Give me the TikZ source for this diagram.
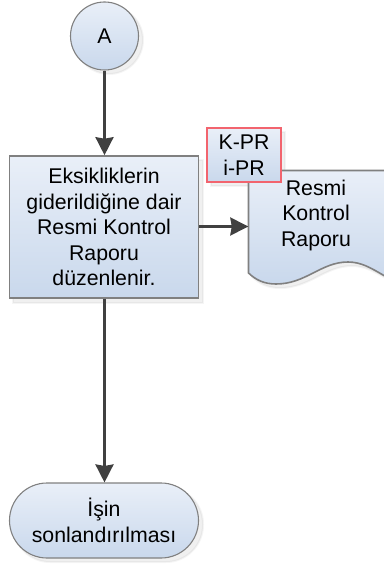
\documentclass[tikz,border=0pt]{standalone}
\usepackage{fontspec}
\setmainfont{Liberation Sans}
\usetikzlibrary{arrows.meta,shapes.misc,calc}
\definecolor{edgegray}{HTML}{808080}
\definecolor{arrowgray}{HTML}{404040}
\definecolor{fillTop}{HTML}{E9EFF8}
\definecolor{fillBot}{HTML}{C9D8EC}
\definecolor{redline}{HTML}{F2646E}
\tikzset{
  x=1pt,y=-1pt,
  body/.style={top color=fillTop,bottom color=fillBot,draw=edgegray,line width=1.1pt},
  heavybody/.style={body,line width=1.6pt},
  softshadow/.style={fill=black,fill opacity=0.06,draw=black,draw opacity=0.04,line width=2pt},
  label/.style={align=center,font=\fontsize{21.3}{25.5}\selectfont,text=black,inner sep=0pt},
  flow/.style={draw=arrowgray,line width=2.6pt,-{Stealth[length=18pt,width=18pt,inset=1.5pt]}},
}
\begin{document}
\begin{tikzpicture}
\useasboundingbox (0,0) rectangle (383,567);
% shadows
\fill[softshadow] (109,40) circle (34);
\fill[softshadow] (13,160) rectangle (203,303);
\fill[softshadow] (252,175) -- (394,175) -- (394,287) -- (387,279) .. controls (375,272) and (365,266) .. (352,266) .. controls (325,266) and (310,288) .. (280,288) .. controls (268,288) and (260,284) .. (252,277) -- cycle;
\fill[softshadow] (211,132) rectangle (285,186);
\fill[softshadow,rounded corners=37pt] (13,487) rectangle (203,562);
% shapes
\node[body,circle,minimum size=68pt,inner sep=0pt] (A) at (104.5,36) {};
\node[heavybody,rectangle,minimum width=189pt,minimum height=142pt,inner sep=0pt] (box) at (104,227) {};
\path[heavybody] (248.5,170.5) -- (390,170.5) -- (390,279) -- (383,275) .. controls (371,268) and (361,262) .. (348,262) .. controls (321,262) and (306,284) .. (276,284) .. controls (264,284) and (256,280) .. (248.5,273) -- cycle;
\node[inner sep=0pt,minimum width=134.5pt,minimum height=112pt] (doc) at (315.75,226.5) {};
\node[heavybody,draw=redline,rectangle,minimum width=74pt,minimum height=54pt,inner sep=0pt] (tag) at (244,155) {};
\node[body,rounded rectangle,minimum width=189pt,minimum height=75pt,inner sep=0pt] (end) at (104,520.5) {};
% labels
\node[label] at (A) {A};
\node[label] at (box) {Eksikliklerin\\giderildiğine dair\\Resmi Kontrol\\Raporu\\düzenlenir.};
\node[label] at (316,215) {Resmi\\Kontrol\\Raporu};
\node[label] at (tag) {K-PR\\i-PR};
\node[label] at (end) {İşin\\sonlandırılması};
% connectors
\draw[flow] (A.south) -- (A.south |- box.north);
\draw[flow] (box.east |- doc.west) -- (doc.west);
\draw[flow] (A.south |- box.south) -- (A.south |- end.north);
\end{tikzpicture}
\end{document}
